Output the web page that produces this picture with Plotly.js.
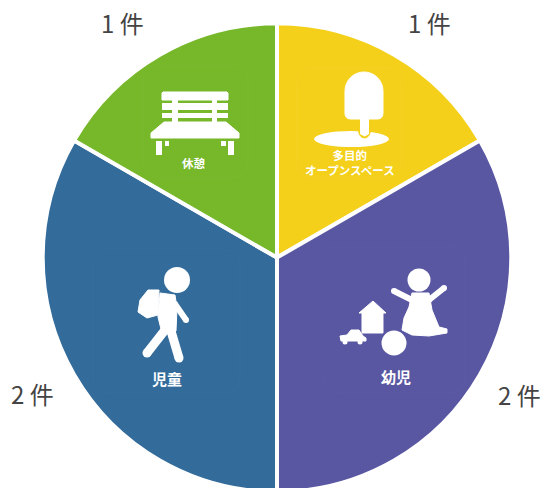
<!DOCTYPE html>
<html><head><meta charset="utf-8">
<script src="https://cdn.plot.ly/plotly-3.0.1.min.js"></script>
<style>html,body{margin:0;padding:0;background:#fff;overflow:hidden;width:544px;height:488px}#c{width:544px;height:520px}</style>
</head><body><div id="c"></div>
<script>
const categories = ["多目的オープンスペース", "幼児", "児童", "休憩"];
const counts = [1, 2, 2, 1];
const colors = ["#F4D01A", "#5A57A2", "#336B9B", "#76B82A"];
const frameColors = ["#F6D835", "#6260A8", "#3C73A2", "#7FBD38"];
const countLabelX = [429, 519, 32, 122];
const countLabelY = [23, 394, 393, 23];
const iconLabels = ["多目的<br>オープンスペース", "幼児", "児童", "休憩"];
const iconLabelX = [350, 396, 167, 194];
const iconLabelY = [162, 376, 378, 163];
const iconLabelSize = [11.5, 15, 15, 11.5];

const W = 544, H = 520, cx = 277, cy = 257.6, R = 234.3;
const fx = x => x / W, fy = y => 1 - y / H;
const toPath = s => s.replace(/(-?[\d.]+),(-?[\d.]+)/g, (m, a, b) => fx(+a).toFixed(5) + "," + fy(+b).toFixed(5));
const base = {type:"path", xref:"paper", yref:"paper"};
const blob = (s, c) => Object.assign({}, base, {path:toPath(s), fillcolor:c||"#fff", line:{color:c||"#fff", width:1}});
const rect = (x0,y0,x1,y1) => Object.assign({}, base, {path:toPath(`M${x0},${y0} L${x1},${y0} L${x1},${y1} L${x0},${y1} Z`), fillcolor:"#fff", line:{width:0}});
const ell = (x0,y0,x1,y1) => ({type:"circle", xref:"paper", yref:"paper", x0:fx(x0), x1:fx(x1), y0:fy(y1), y1:fy(y0), fillcolor:"#fff", line:{width:0}});
const disc = (x,y,r) => ell(x-r,y-r,x+r,y+r);
const stroke = (s,w) => Object.assign({}, base, {path:toPath(s), line:{color:"#fff", width:w}});
const limb = (x0,y0,x1,y1,w) => [stroke(`M${x0},${y0} L${x1},${y1}`,w), disc(x0,y0,w/2), disc(x1,y1,w/2)];
const frame = (x0,y0,x1,y1,c) => { const r=15; return Object.assign({}, base, {
  path:toPath(`M${x0+r},${y0} L${x1-r},${y0} Q${x1},${y0} ${x1},${y0+r} L${x1},${y1-r} Q${x1},${y1} ${x1-r},${y1} L${x0+r},${y1} Q${x0},${y1} ${x0},${y1-r} L${x0},${y0+r} Q${x0},${y0} ${x0+r},${y0} Z`),
  opacity:0.35, line:{color:c, width:1}}); };

const shapes = [
  frame(297,68,402,178,frameColors[0]), frame(324,246,465,393,frameColors[1]),
  frame(93,250,240,393,frameColors[2]), frame(143,65,248,177,frameColors[3]),
  // bench
  blob("M163,92 L227,92 L228,93 L228,100 L162,100 L162,93 Z"), rect(162,103,228,110), rect(162,113,228,118),
  rect(172,92,178,122), rect(212,92,217,122),
  blob("M164,122 L226,122 L239,133 L239,138 L151,138 L151,133 Z"),
  rect(156,141,162,155), rect(165,141,169,146), rect(228,141,234,155), rect(221,141,226,146),
  // tree
  ell(314,131,389,147),
  blob("M358.5,118 L370.5,118 L370.5,130 Q370,137.5 364.5,138 Q359,137.5 358.5,130 Z", colors[0]),
  blob("M360.5,118 L368.5,118 L368.5,134 L364.5,136 L360.5,134 Z"),
  blob("M345,91 C345,80.5 353.5,72 364,72 C374.5,72 383,80.5 383,91 L383,113 C383,117 381,119 377,119 L351,119 C347,119 345,117 345,113 Z"),
  // child with toys
  disc(419,280,11.5),
  ...limb(394,291,412,300,6), ...limb(444,288,429,300,6),
  blob("M412,293 L429,293 L432,310 L439,327 L447,329 L447,333 L429,336 L412,335 L402,330 L404,318 L409,307 Z"),
  blob("M373,301 L386,313 L383,313 L383,333 L362,333 L362,313 L359,313 Z"),
  rect(372,318,377,333),
  blob("M340,336 L347,335 L351,330 L359,330 L363,336 L366,338 L366,341 L341,341 Z"),
  disc(345,342,2.5), disc(360,342,2.5),
  disc(394,343,12.5),
  // schoolchild
  disc(177,280,13),
  blob("M148,290 L159,290 L158,315 L147,318 L138,312 L140,300 Z"),
  blob("M160,293 L175,295 L177,308 L176,331 L162,333 L158,317 Z"),
  ...limb(175,304,186,320,6),
  ...limb(165,330,147,353,9), ...limb(171,331,179,358,9)
];

const annotations = counts.map((v,i)=>({
  xref:"paper", yref:"paper", x:fx(countLabelX[i]), y:fy(countLabelY[i]), xanchor:"center", yanchor:"middle",
  text:v+" 件", showarrow:false, font:{family:"'Noto Sans CJK JP', sans-serif", size:24, color:"#444"}
})).concat(iconLabels.map((t,i)=>({
  xref:"paper", yref:"paper", x:fx(iconLabelX[i]), y:fy(iconLabelY[i]), xanchor:"center", yanchor:"middle",
  text:"<b>"+t+"</b>", showarrow:false, align:"center", font:{family:"'Noto Sans CJK JP', sans-serif", size:iconLabelSize[i], color:"#fff"}
})));

Plotly.newPlot("c", [{
  type:"pie", labels:categories, values:counts, sort:false, direction:"clockwise", rotation:0,
  textinfo:"none", hoverinfo:"label+value", showlegend:false,
  marker:{colors:colors, line:{color:"#fff", width:4}},
  domain:{x:[(cx-R)/W,(cx+R)/W], y:[1-(cy+R)/H,1-(cy-R)/H]}
}], {
  width:W, height:H, margin:{l:0,r:0,t:0,b:0}, paper_bgcolor:"#fff", showlegend:false,
  shapes:shapes, annotations:annotations
}, {displayModeBar:false, staticPlot:true});
</script></body></html>
